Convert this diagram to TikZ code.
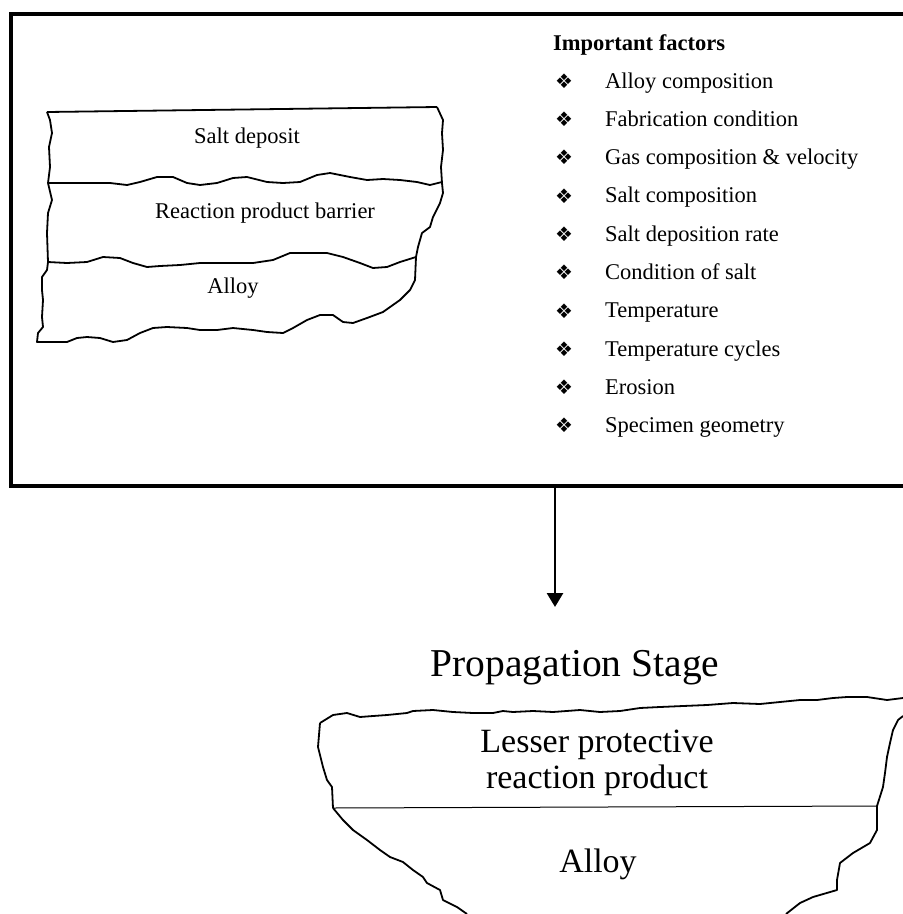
\documentclass[tikz,border=0pt]{standalone}
\usepackage{fontspec}
\setmainfont{Liberation Serif}
\newfontfamily\symbfont{DejaVu Sans}
\usetikzlibrary{arrows.meta}

\tikzset{
  layer/.style={line width=1.8pt, line join=round},
  frame/.style={line width=3.5pt},
  smalltxt/.style={font=\fontsize{22.5}{27}\selectfont, inner sep=0pt},
  bigtxt/.style={font=\fontsize{34}{40}\selectfont, inner sep=0pt},
  bulletmark/.style={font={\symbfont\fontsize{20}{20}\selectfont}, inner sep=0pt},
}

\begin{document}
\begin{tikzpicture}[x=1pt,y=-1pt]
  \useasboundingbox (0,0) rectangle (903,914);

  % Outer frame (right side runs off the page)
  \draw[frame] (903,14) -- (11,14) -- (11,486) -- (903,486);

  % Initiation sketch: salt deposit layer
  \draw[layer] (47,112) -- (437,107);
  \draw[layer] (47,112) -- (50,120) -- (52,133) -- (49,147) -- (50,167) -- (48,183);
  \draw[layer] (437,107) -- (443,120) -- (442,133) -- (443,150) -- (441,167) -- (442,183);
  % Interface salt / barrier
  \draw[layer] (48,183) -- (110,183) -- (127,185) -- (140,182) -- (157,177) -- (173,177)
    -- (187,183) -- (200,185) -- (217,183) -- (233,178) -- (247,177) -- (267,182)
    -- (283,183) -- (300,182) -- (317,175) -- (330,173) -- (350,177) -- (367,180)
    -- (383,179) -- (400,180) -- (417,182) -- (430,185) -- (442,182);
  % Barrier layer edges
  \draw[layer] (48,183) -- (52,200) -- (48,213) -- (47,233) -- (48,262);
  \draw[layer] (442,183) -- (443,193) -- (440,203) -- (433,217) -- (430,227) -- (422,233)
    -- (418,247) -- (416,257);
  % Interface barrier / alloy
  \draw[layer] (48,262) -- (67,263) -- (87,262) -- (103,257) -- (120,258) -- (133,263)
    -- (147,267) -- (160,266) -- (180,265) -- (200,263) -- (233,263) -- (253,263)
    -- (273,260) -- (290,253) -- (310,253) -- (327,253) -- (343,257) -- (360,263)
    -- (373,268) -- (387,267) -- (400,262) -- (416,257);
  % Alloy outline
  \draw[layer] (48,262) -- (47,270) -- (42,277) -- (42,290) -- (43,300) -- (42,317)
    -- (43,327) -- (38,333) -- (37,342) -- (67,342) -- (77,338) -- (87,337) -- (100,338)
    -- (113,342) -- (127,340) -- (140,333) -- (153,328) -- (167,327) -- (187,328)
    -- (200,330) -- (217,330) -- (233,328) -- (253,330) -- (267,332) -- (283,333)
    -- (293,328) -- (307,320) -- (320,315) -- (333,315) -- (343,322) -- (353,323)
    -- (367,318) -- (383,312) -- (400,300) -- (410,290) -- (415,280) -- (416,257);

  % Layer labels
  \node[smalltxt, anchor=base] (salt) at (247,143) {Salt deposit};
  \node[smalltxt, anchor=base] (barrier) at (265,218) {Reaction product barrier};
  \node[smalltxt, anchor=base] (alloytop) at (233,293) {Alloy};

  % Important factors list
  \node[smalltxt, anchor=base west] (factors) at (553,50) {\bfseries Important factors};
  \foreach \txt [count=\i] in {Alloy composition, Fabrication condition,
      Gas composition \& velocity, Salt composition, Salt deposition rate,
      Condition of salt, Temperature, Temperature cycles, Erosion, Specimen geometry} {
    \pgfmathsetmacro{\yb}{88+38.3*(\i-1)}
    \node[bulletmark] (b\i) at (564,\yb-7) {❖};
    \node[smalltxt, anchor=base west] (f\i) at (605,\yb) {\txt};
  }

  % Arrow down to the propagation stage
  \coordinate (arrowtop) at (555,486);
  \coordinate (arrowtip) at (555,607);
  \draw[line width=2.8pt, -{Triangle[length=14pt,width=16pt]}] (arrowtop) -- (arrowtip);

  % Propagation stage title
  \node[font=\fontsize{39.5}{46}\selectfont, inner sep=0pt, anchor=base] (stage) at (575,676)
    {Propagation Stage};

  % Propagation sketch: top edge of reaction product
  \draw[layer] (320,723) -- (333,715) -- (347,713) -- (360,717) -- (373,716) -- (387,715)
    -- (407,713) -- (413,711) -- (433,710) -- (453,712) -- (473,713) -- (493,713)
    -- (503,711) -- (513,712) -- (533,711) -- (553,712) -- (580,710) -- (600,712)
    -- (620,711) -- (640,708) -- (660,707) -- (683,706) -- (707,705) -- (733,703)
    -- (760,704) -- (780,702) -- (800,700) -- (817,700) -- (833,698) -- (847,697)
    -- (867,697) -- (887,700) -- (903,698);
  % Side edges of reaction product
  \draw[layer] (320,723) -- (318,747) -- (323,767) -- (327,780) -- (332,787) -- (333,808);
  \draw[layer] (877,806) -- (883,787) -- (885,773) -- (887,757) -- (890,743) -- (893,730)
    -- (898,720) -- (903,716);
  % Reaction product / alloy interface
  \draw[line width=1pt] (333,808) -- (877,806);
  % Alloy edges
  \draw[layer] (333,808) -- (343,820) -- (353,830) -- (367,840) -- (380,850) -- (390,857)
    -- (403,862) -- (413,870) -- (423,877) -- (427,883) -- (440,890) -- (443,900)
    -- (457,907) -- (467,914);
  \draw[layer] (877,806) -- (877,830) -- (870,843) -- (853,853) -- (840,863) -- (837,880)
    -- (837,890) -- (813,897) -- (800,903) -- (786,914);

  % Propagation labels
  \node[bigtxt, anchor=base] (lesser) at (597,752) {Lesser protective};
  \node[bigtxt, anchor=base] (reaction) at (597,788) {reaction product};
  \node[bigtxt, anchor=base] (alloybot) at (598,872) {Alloy};
\end{tikzpicture}
\end{document}
